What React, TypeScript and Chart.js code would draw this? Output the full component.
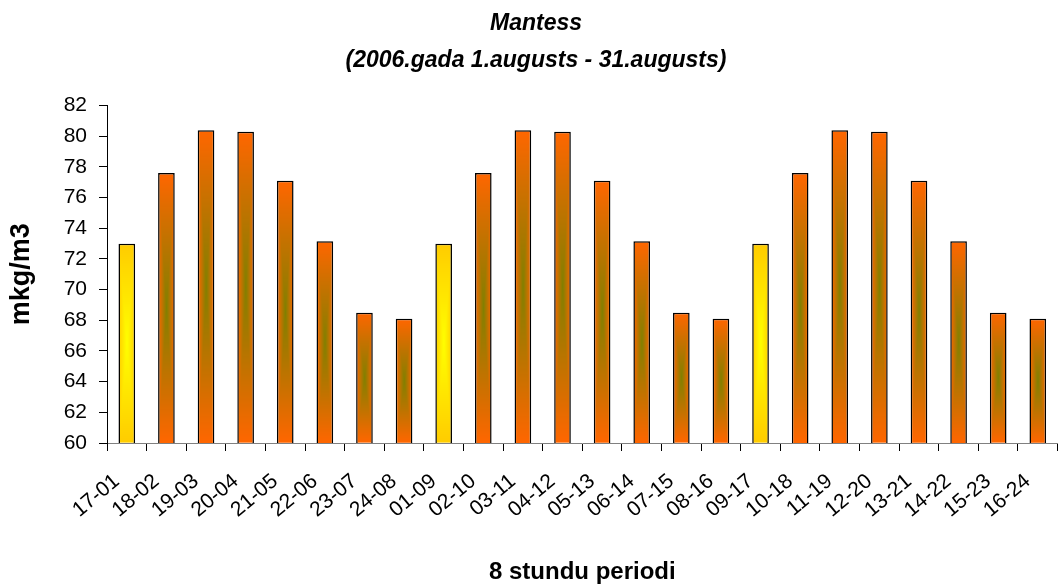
import React, { useEffect, useRef } from 'react';
import { Chart, registerables } from 'chart.js';

Chart.register(...registerables);

const categories = [
  '17-01', '18-02', '19-03', '20-04', '21-05', '22-06', '23-07', '24-08',
  '01-09', '02-10', '03-11', '04-12', '05-13', '06-14', '07-15', '08-16',
  '09-17', '10-18', '11-19', '12-20', '13-21', '14-22', '15-23', '16-24',
];

const concentrations = [
  73.0, 77.6, 80.4, 80.3, 77.1, 73.15, 68.5, 68.1,
  73.0, 77.6, 80.4, 80.3, 77.1, 73.15, 68.5, 68.1,
  73.0, 77.6, 80.4, 80.3, 77.1, 73.15, 68.5, 68.1,
];

const highlightedCategories = ['17-01', '01-09', '09-17'];

const titleLines = ['Mantess', '(2006.gada 1.augusts - 31.augusts)'];
const yAxisTitle = 'mkg/m3';
const xAxisTitle = '8 stundu periodi';
const yMin = 60;
const yMax = 82;
const yStep = 2;

const FONT = "'Liberation Sans', Arial, sans-serif";
const BAR_PCT = 0.42;
const CANVAS_W = 1072;
const CANVAS_H = 587;

type RGB = [number, number, number];
const YELLOW_CENTER: RGB = [255, 255, 0];
const YELLOW_EDGE: RGB = [255, 204, 0];
const ORANGE_CENTER: RGB = [128, 128, 0];
const ORANGE_EDGE: RGB = [255, 102, 0];

function makeFill(
  ctx: CanvasRenderingContext2D,
  left: number,
  top: number,
  w: number,
  h: number,
  center: RGB,
  edge: RGB,
): CanvasPattern | string {
  const W = Math.max(1, Math.round(w));
  const H = Math.max(1, Math.round(h));
  const off = document.createElement('canvas');
  off.width = W;
  off.height = H;
  const c = off.getContext('2d');
  if (!c) return `rgb(${edge.join(',')})`;
  const img = c.createImageData(W, H);
  for (let y = 0; y < H; y++) {
    const ty = Math.abs(y + 0.5 - H / 2) / (H / 2);
    for (let x = 0; x < W; x++) {
      const tx = Math.abs(x + 0.5 - W / 2) / (W / 2);
      const t = Math.min(1, Math.max(tx, ty));
      const k = (y * W + x) * 4;
      img.data[k] = Math.round(center[0] * (1 - t) + edge[0] * t);
      img.data[k + 1] = Math.round(center[1] * (1 - t) + edge[1] * t);
      img.data[k + 2] = Math.round(center[2] * (1 - t) + edge[2] * t);
      img.data[k + 3] = 255;
    }
  }
  c.putImageData(img, 0, 0);
  const pat = ctx.createPattern(off, 'no-repeat');
  if (!pat) return `rgb(${edge.join(',')})`;
  pat.setTransform(new DOMMatrix([1, 0, 0, 1, left, top]));
  return pat;
}

export default function App() {
  const canvasRef = useRef<HTMLCanvasElement | null>(null);

  useEffect(() => {
    const canvas = canvasRef.current;
    if (!canvas) return;

    const chart = new Chart(canvas, {
      type: 'bar',
      data: {
        labels: categories,
        datasets: [
          {
            data: concentrations,
            backgroundColor: (ctx: any) => {
              const ch = ctx.chart;
              const xs = ch.scales?.x;
              const ys = ch.scales?.y;
              const i = ctx.dataIndex;
              const hl = i != null && highlightedCategories.includes(categories[i]);
              if (!ch.chartArea || !xs || !ys || i == null) return hl ? '#FFCC00' : '#FF6600';
              const v = concentrations[i];
              const cx = xs.getPixelForValue(i);
              const catW = xs.getPixelForValue(1) - xs.getPixelForValue(0);
              const w = catW * BAR_PCT;
              const top = ys.getPixelForValue(v);
              const bottom = ys.getPixelForValue(yMin);
              return makeFill(
                ch.ctx,
                cx - w / 2,
                top,
                w,
                bottom - top,
                hl ? YELLOW_CENTER : ORANGE_CENTER,
                hl ? YELLOW_EDGE : ORANGE_EDGE,
              );
            },
            borderColor: '#000000',
            borderWidth: 1.5,
            borderSkipped: false,
            barPercentage: BAR_PCT,
            categoryPercentage: 1,
          },
        ],
      },
      options: {
        responsive: false,
        animation: false,
        layout: { padding: 0 },
        plugins: {
          legend: { display: false },
          tooltip: { enabled: false },
          title: {
            display: true,
            text: titleLines,
            color: '#000000',
            font: { family: FONT, size: 23, weight: 'bold', style: 'italic', lineHeight: 1.6 },
            padding: { top: 5, bottom: 27 },
          },
        },
        scales: {
          x: {
            grid: {
              display: true,
              drawOnChartArea: false,
              drawTicks: true,
              tickLength: 8,
              tickColor: '#000000',
              offset: true,
            },
            border: { display: true, color: '#808080', width: 1 },
            ticks: {
              autoSkip: false,
              minRotation: 40,
              maxRotation: 40,
              color: '#000000',
              font: { family: FONT, size: 21 },
              padding: 18,
              labelOffset: -10,
            },
            title: {
              display: true,
              text: xAxisTitle,
              color: '#000000',
              font: { family: FONT, size: 24, weight: 'bold' },
              padding: { top: 0, bottom: 0 },
            },
            afterFit: (scale: any) => {
              scale.height = 144;
            },
          },
          y: {
            min: yMin,
            max: yMax,
            grid: {
              display: true,
              drawOnChartArea: false,
              drawTicks: true,
              tickLength: 8,
              tickColor: '#000000',
            },
            border: { display: true, color: '#000000', width: 1 },
            ticks: {
              stepSize: yStep,
              color: '#000000',
              font: { family: FONT, size: 21 },
              padding: 12,
            },
            title: {
              display: true,
              text: yAxisTitle,
              color: '#000000',
              font: { family: FONT, size: 27, weight: 'bold' },
              padding: { top: 5, bottom: 0 },
            },
            afterFit: (scale: any) => {
              scale.width = 107;
            },
          },
        },
      },
    });

    return () => {
      chart.destroy();
    };
  }, []);

  return (
    <div style={{ position: 'fixed', left: 0, top: 0, width: CANVAS_W, height: CANVAS_H, background: '#ffffff' }}>
      <canvas ref={canvasRef} width={CANVAS_W} height={CANVAS_H} style={{ display: 'block' }} />
    </div>
  );
}
